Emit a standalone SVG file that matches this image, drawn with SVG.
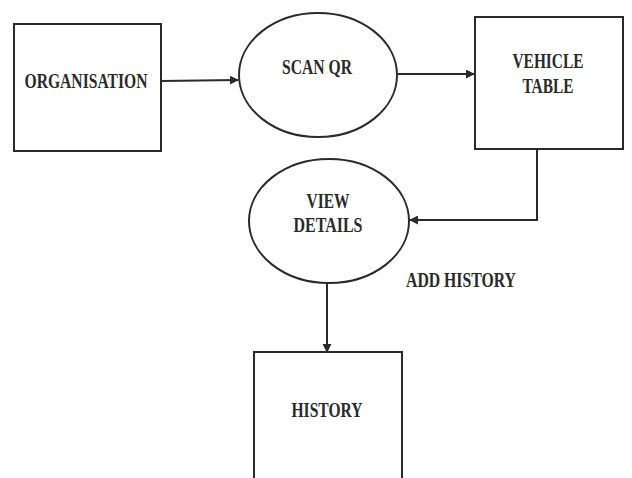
<svg xmlns="http://www.w3.org/2000/svg" width="632" height="478" viewBox="0 0 632 478">
<style>
.box{fill:#fff;stroke:#2a2a2a;stroke-width:2}
.lbl{font-family:"Liberation Serif","Times New Roman",serif;font-weight:bold;font-size:22px;fill:#2a2a2a;text-anchor:middle}
.ln{fill:none;stroke:#2a2a2a;stroke-width:2}
</style>
<defs>
<marker id="ah" viewBox="0 0 10 10" refX="9" refY="5" markerWidth="4.5" markerHeight="4.5" orient="auto" markerUnits="strokeWidth">
<path d="M0,0 L10,5 L0,10 z" fill="#2a2a2a"/>
</marker>
</defs>
<rect width="632" height="478" fill="#fff"/>
<g id="connectors">
<path class="ln" d="M161,81 L238,80" marker-end="url(#ah)"/>
<path class="ln" d="M398,74 L474,74" marker-end="url(#ah)"/>
<path class="ln" d="M537,149 L537,220 L410,220" marker-end="url(#ah)"/>
<path class="ln" d="M327,283 L327,352" marker-end="url(#ah)"/>
</g>
<g id="organisation">
<rect class="box" x="14" y="24" width="147" height="127"/>
<text class="lbl" x="86" y="88" textLength="123" lengthAdjust="spacingAndGlyphs">ORGANISATION</text>
</g>
<g id="scan-qr">
<ellipse class="box" cx="318" cy="75" rx="79" ry="62"/>
<text class="lbl" x="317" y="74" textLength="70" lengthAdjust="spacingAndGlyphs">SCAN QR</text>
</g>
<g id="vehicle-table">
<rect class="box" x="475" y="17" width="148" height="132"/>
<text class="lbl" x="548" y="68" textLength="71" lengthAdjust="spacingAndGlyphs">VEHICLE</text>
<text class="lbl" x="548" y="93" textLength="51" lengthAdjust="spacingAndGlyphs">TABLE</text>
</g>
<g id="view-details">
<ellipse class="box" cx="329" cy="221" rx="80" ry="62"/>
<text class="lbl" x="328" y="208" textLength="43" lengthAdjust="spacingAndGlyphs">VIEW</text>
<text class="lbl" x="328" y="232" textLength="69" lengthAdjust="spacingAndGlyphs">DETAILS</text>
</g>
<g id="add-history">
<text class="lbl" x="461" y="287" textLength="110" lengthAdjust="spacingAndGlyphs">ADD HISTORY</text>
</g>
<g id="history">
<rect class="box" x="254" y="352" width="148" height="140"/>
<text class="lbl" x="327" y="417" textLength="71" lengthAdjust="spacingAndGlyphs">HISTORY</text>
</g>
</svg>
